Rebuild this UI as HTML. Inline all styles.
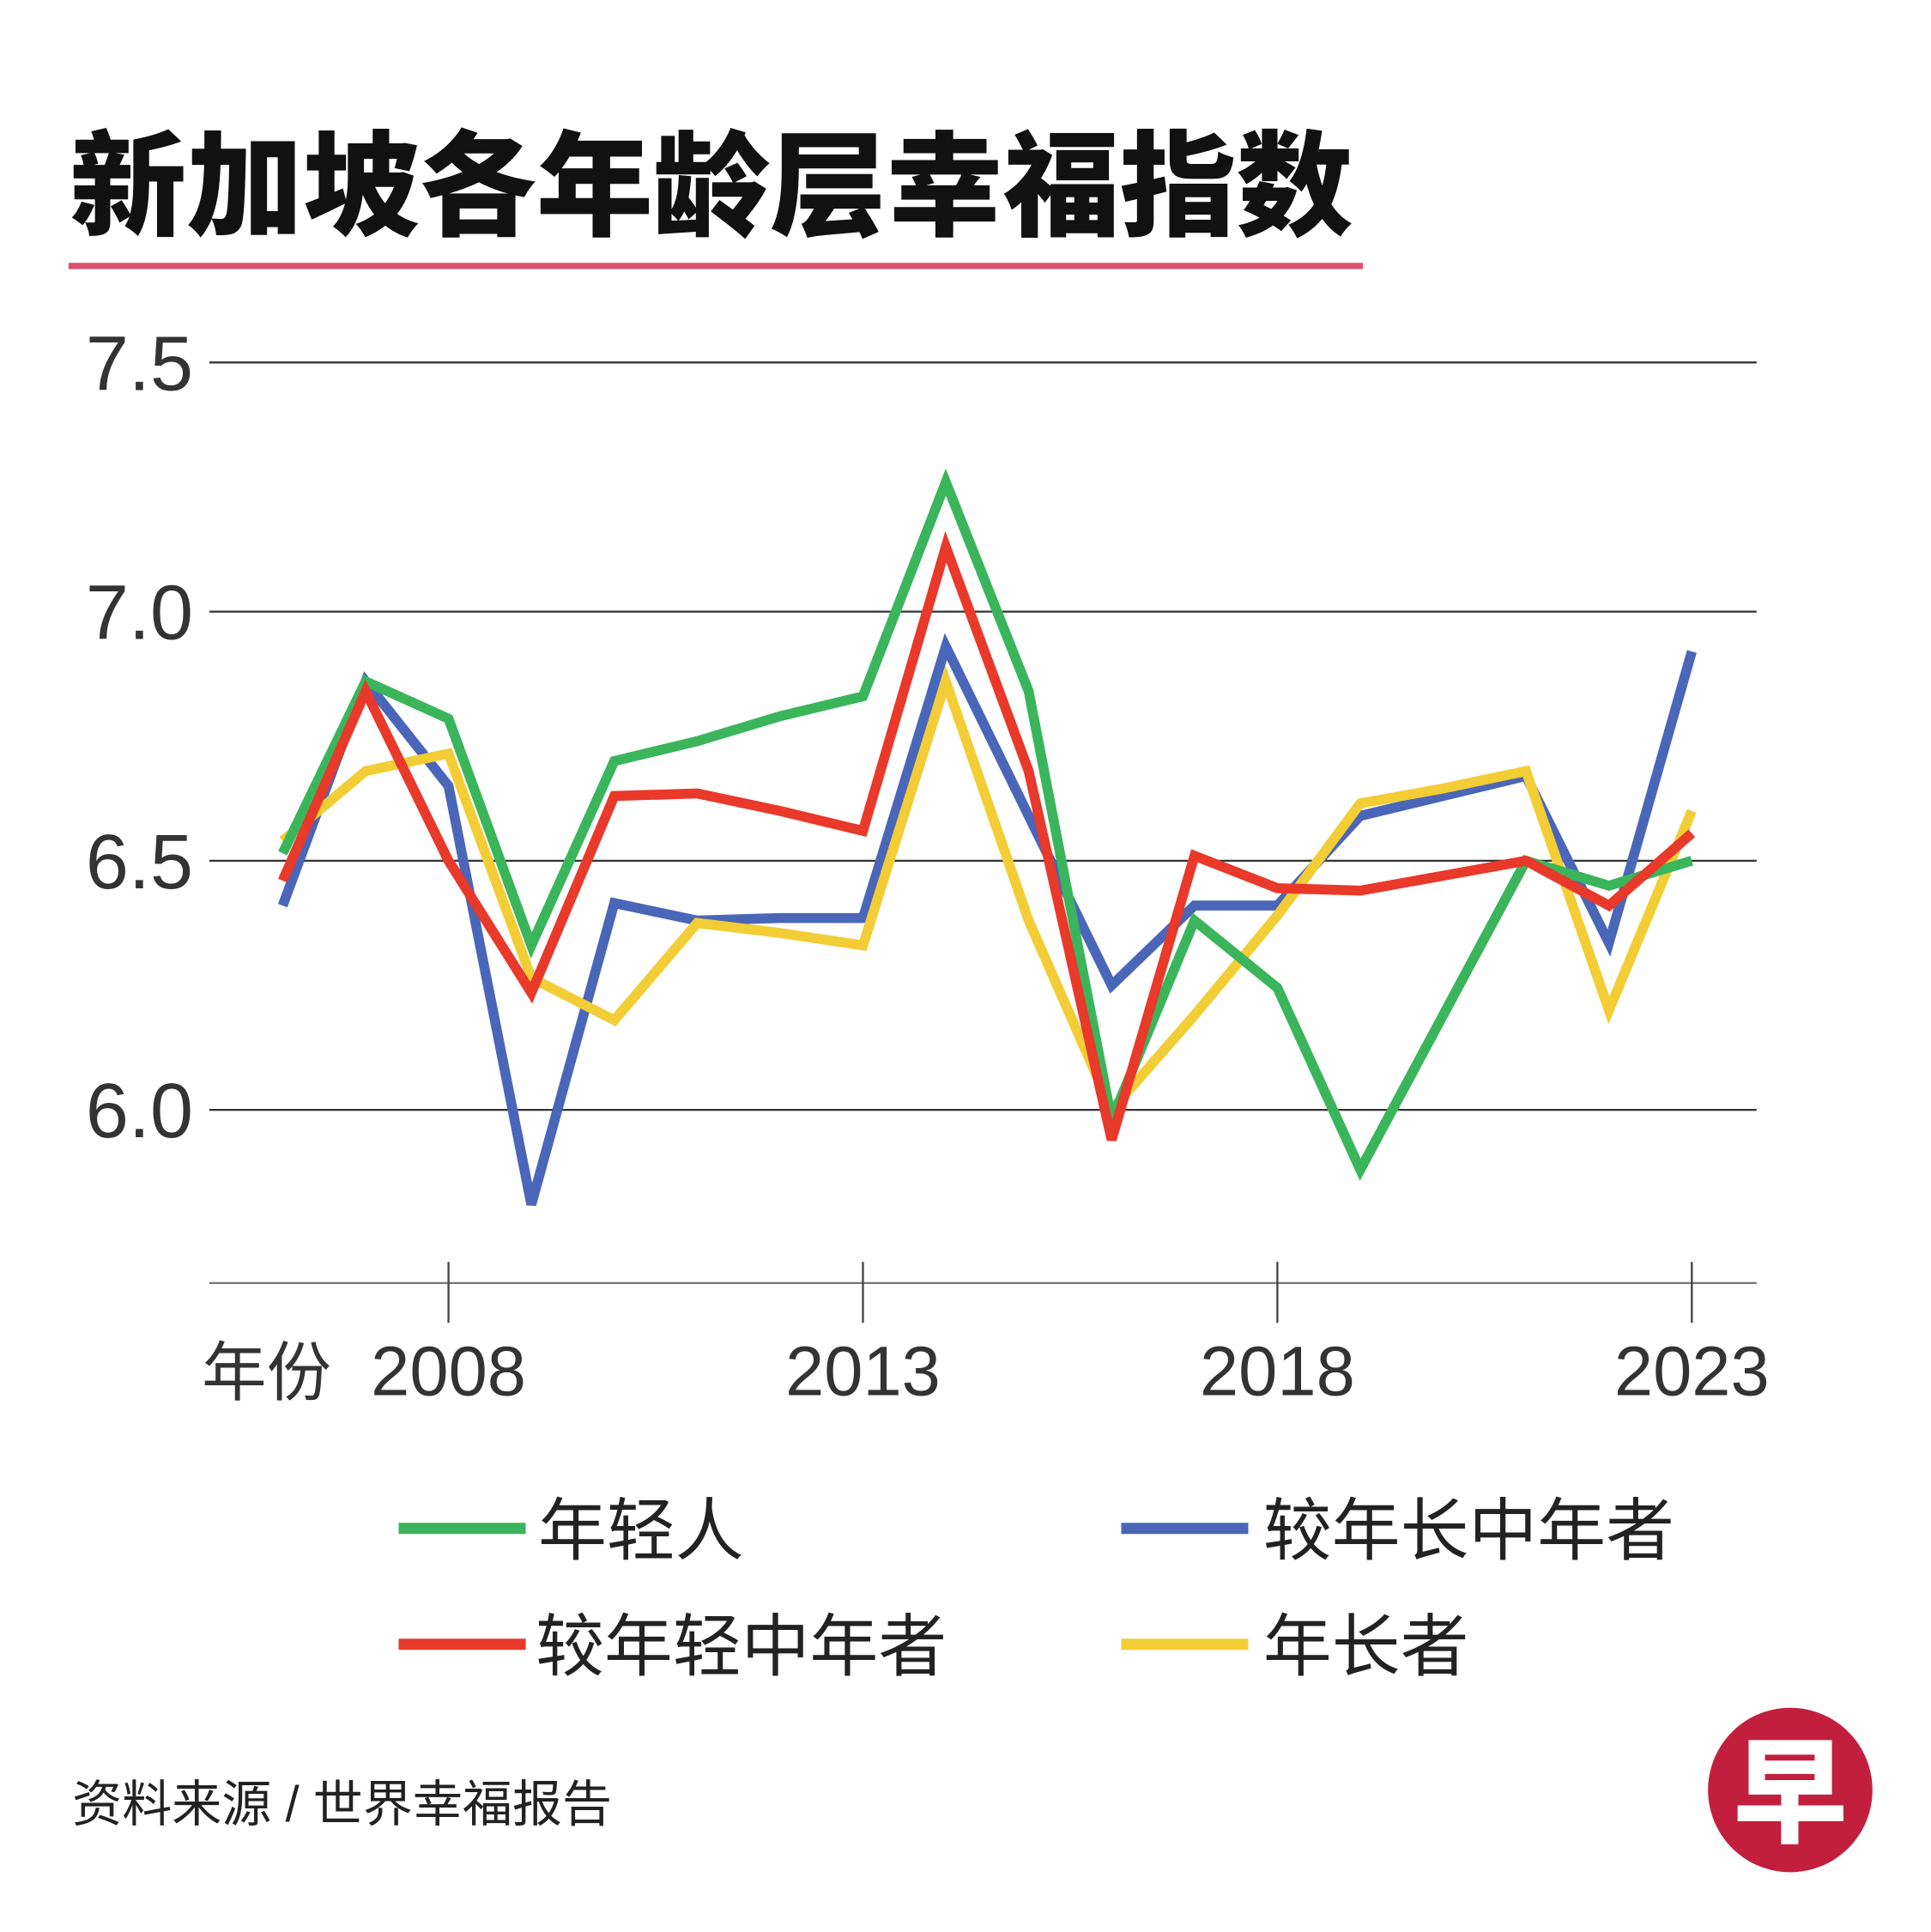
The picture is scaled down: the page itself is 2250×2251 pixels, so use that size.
<!DOCTYPE html>
<html><head><meta charset="utf-8">
<style>
html,body{margin:0;padding:0;background:#fff;}
svg{display:block;}
text{font-family:"Liberation Sans","Noto Sans CJK SC",sans-serif;}
</style></head>
<body>
<svg id="chart" width="2250" height="2251" viewBox="0 0 1550 1551" preserveAspectRatio="none">
  <rect width="1550" height="1551" fill="#fff"/>
  <text x="56" y="182" font-size="92" font-weight="900" fill="#111" style="font-family:'Noto Sans CJK SC',sans-serif" textLength="1030" lengthAdjust="spacingAndGlyphs">新加坡各年龄层幸福指数</text>
  <rect x="55" y="211" width="1039" height="5" fill="#e0506e"/>
  <g id="grid"></g>
  <g id="axes"></g>
  <g id="series"></g>
  <g id="legend">
    <line x1="320" y1="1227" x2="422" y2="1227" stroke="#3bb55b" stroke-width="9"/>
    <text x="432" y="1248" font-size="55" fill="#222">年轻人</text>
    <line x1="900" y1="1227" x2="1002" y2="1227" stroke="#4a66b8" stroke-width="9"/>
    <text x="1014" y="1248" font-size="55" fill="#222">较年长中年者</text>
    <line x1="320" y1="1320" x2="422" y2="1320" stroke="#e8392a" stroke-width="9"/>
    <text x="430" y="1341" font-size="55" fill="#222">较年轻中年者</text>
    <line x1="900" y1="1320" x2="1002" y2="1320" stroke="#f2cd35" stroke-width="9"/>
    <text x="1014" y="1341" font-size="55" fill="#222">年长者</text>
  </g>
  <text x="58" y="1462" font-size="40" fill="#222">资料来源 / 世界幸福报告</text>
  <g>
    <circle cx="1437" cy="1437" r="66" fill="#c21f3e"/>
    <text x="1437" y="1472" font-size="92" font-weight="900" fill="#fff" text-anchor="middle" style="font-family:'Noto Sans CJK SC',sans-serif">早</text>
  </g>
</svg>
<script>
const years = [2006,2007,2008,2009,2010,2011,2012,2013,2014,2015,2016,2017,2018,2019,2020,2021,2022,2023];
const young = [6.515,6.86,6.785,6.33,6.70,6.74,6.79,6.83,7.26,6.84,5.98,6.38,6.245,5.88,6.19,6.50,6.45,6.50];
const olderMiddle = [6.41,6.86,6.65,5.81,6.415,6.38,6.385,6.385,6.93,6.59,6.25,6.41,6.41,6.59,6.63,6.67,6.335,6.92];
const youngerMiddle = [6.46,6.84,6.50,6.235,6.63,6.635,6.60,6.56,7.13,6.68,5.94,6.51,6.445,6.44,6.47,6.50,6.41,6.555];
const elderly = [6.54,6.68,6.715,6.265,6.18,6.375,6.355,6.33,6.86,6.38,6.00,6.19,6.39,6.615,6.645,6.68,6.20,6.60];
const yTicks = [6.0,6.5,7.0,7.5];
const yTickLabels = ["6.0","6.5","7.0","7.5"];
const xTicks = [2008,2013,2018,2023];
const xTickLabels = ["2008","2013","2018","2023"];

const NS = "http://www.w3.org/2000/svg";
function xScale(yr){ return 360 + (yr-2008)*(998/15); }
function yScale(v){ return 291 + (7.5-v)*400; }
function mk(tag, attrs, parent){ const e=document.createElementNS(NS,tag); for(const k in attrs) e.setAttribute(k,attrs[k]); parent.appendChild(e); return e; }

const grid=document.getElementById('grid');
yTicks.forEach((t,i)=>{
  const l=mk('line',{x1:168,x2:1410,y1:yScale(t),y2:yScale(t),stroke:'#333','stroke-width':1.6},grid);
  
  
  const tx=mk('text',{x:155,y:yScale(t)+22,'font-size':62,fill:'#333','text-anchor':'end'},grid);
  
  
  tx.textContent=yTickLabels[i];
});
const axes=document.getElementById('axes');
const base=mk('line',{x1:168,x2:1410,y1:1030,y2:1030,stroke:'#777','stroke-width':1.6},axes);


xTicks.forEach((t,i)=>{
  const l=mk('line',{x1:xScale(t),x2:xScale(t),y1:1013,y2:1062,stroke:'#444','stroke-width':1.6},axes);
  
  
  const tx=mk('text',{x:xScale(t),y:1120,'font-size':56,fill:'#333','text-anchor':'middle'},axes);
  
  
  tx.textContent=xTickLabels[i];
});
const yl=mk('text',{x:162,y:1120,'font-size':52,fill:'#333'},axes);


yl.textContent='年份';

const series=document.getElementById('series');
function drawLine(vals,color,name){
  const pts=vals.map((v,i)=>xScale(years[i]).toFixed(1)+','+yScale(v).toFixed(1)).join(' ');
  const p=mk('polyline',{points:pts,fill:'none',stroke:color,'stroke-width':8,'stroke-linejoin':'miter','stroke-miterlimit':4},series);
  
  
}
drawLine(olderMiddle,'#4a66b8','line-older-middle-aged');
drawLine(elderly,'#f2cd35','line-elderly');
drawLine(young,'#3bb55b','line-young');
drawLine(youngerMiddle,'#e8392a','line-younger-middle-aged');
</script>
</body></html>
